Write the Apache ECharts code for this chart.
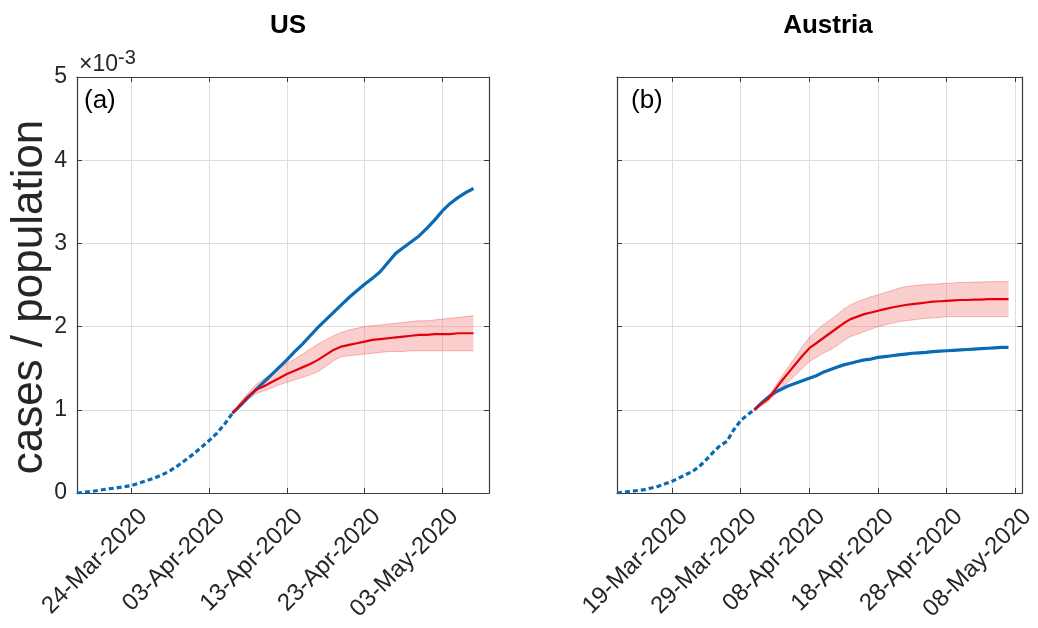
<!DOCTYPE html>
<html>
<head>
<meta charset="utf-8">
<script src="https://cdn.jsdelivr.net/npm/echarts@6/dist/echarts.min.js"></script>
<style>
  html, body { margin: 0; padding: 0; background: #fff; }
  #chart { width: 1038px; height: 628px; }
</style>
</head>
<body>
<div id="chart"></div>
<script>
// ---- DATA (values in units of 1e-3 cases / population) ----
const usStart = '2020-03-17', usDays = 54;       // 17-Mar .. 09-May
const atStart = '2020-03-11', atDays = 60;       // 11-Mar .. 09-May
const usTicks = ['24-Mar-2020', '03-Apr-2020', '13-Apr-2020', '23-Apr-2020', '03-May-2020'];
const atTicks = ['19-Mar-2020', '29-Mar-2020', '08-Apr-2020', '18-Apr-2020', '28-Apr-2020', '08-May-2020'];
const yTicks = [0, 1, 2, 3, 4, 5];

// US observed cases (day 0 = 17-Mar); first 21 points drawn dotted (fit window)
const usObserved = [0.00, 0.01, 0.02, 0.035, 0.05, 0.06, 0.075, 0.09, 0.12, 0.15,
  0.18, 0.22, 0.27, 0.33, 0.40, 0.47, 0.55, 0.63, 0.72, 0.83,
  0.96, 1.05, 1.15, 1.24, 1.33, 1.42, 1.51, 1.60, 1.70, 1.79,
  1.89, 1.99, 2.08, 2.17, 2.26, 2.35, 2.43, 2.51, 2.58, 2.66,
  2.77, 2.88, 2.95, 3.02, 3.09, 3.18, 3.28, 3.39, 3.48, 3.55,
  3.61, 3.66];
const usFitEnd = 20;
// US model prediction (starts at day 20)
const usModel = [0.96, 1.06, 1.16, 1.24, 1.28, 1.33, 1.38, 1.43, 1.47, 1.51,
  1.55, 1.60, 1.66, 1.72, 1.76, 1.78, 1.80, 1.82, 1.84, 1.85,
  1.86, 1.87, 1.88, 1.89, 1.90, 1.90, 1.91, 1.91, 1.91, 1.92,
  1.92, 1.92];
const usUpper = [0.96, 1.09, 1.20, 1.30, 1.37, 1.43, 1.50, 1.56, 1.61, 1.67,
  1.73, 1.79, 1.84, 1.89, 1.93, 1.96, 1.98, 2.00, 2.01, 2.02,
  2.03, 2.04, 2.05, 2.06, 2.07, 2.07, 2.08, 2.09, 2.10, 2.11,
  2.12, 2.13];
const usLower = [0.96, 1.04, 1.12, 1.19, 1.23, 1.26, 1.30, 1.33, 1.36, 1.39,
  1.42, 1.46, 1.52, 1.59, 1.64, 1.65, 1.66, 1.67, 1.68, 1.69,
  1.70, 1.70, 1.70, 1.71, 1.71, 1.71, 1.71, 1.71, 1.71, 1.71,
  1.71, 1.71];

// Austria observed cases (day 0 = 11-Mar)
const atObserved = [0.00, 0.01, 0.02, 0.03, 0.04, 0.06, 0.08, 0.11, 0.14, 0.18,
  0.22, 0.26, 0.32, 0.40, 0.49, 0.57, 0.62, 0.76, 0.87, 0.94,
  1.00, 1.08, 1.15, 1.21, 1.25, 1.29, 1.32, 1.35, 1.38, 1.41,
  1.45, 1.48, 1.51, 1.54, 1.56, 1.58, 1.60, 1.61, 1.63, 1.64,
  1.65, 1.66, 1.67, 1.68, 1.685, 1.69, 1.70, 1.705, 1.71, 1.715,
  1.72, 1.725, 1.73, 1.735, 1.74, 1.745, 1.75, 1.75];
const atFitEnd = 20;
const atModel = [1.00, 1.07, 1.13, 1.24, 1.35, 1.45, 1.55, 1.65, 1.74, 1.80,
  1.86, 1.92, 1.98, 2.04, 2.09, 2.12, 2.15, 2.17, 2.19, 2.21,
  2.23, 2.245, 2.26, 2.27, 2.28, 2.29, 2.30, 2.305, 2.31, 2.315,
  2.32, 2.32, 2.325, 2.325, 2.33, 2.33, 2.33, 2.33];
const atUpper = [1.00, 1.09, 1.16, 1.28, 1.40, 1.52, 1.64, 1.76, 1.87, 1.95,
  2.02, 2.08, 2.14, 2.21, 2.26, 2.30, 2.33, 2.36, 2.38, 2.41,
  2.43, 2.46, 2.48, 2.49, 2.50, 2.505, 2.51, 2.515, 2.52, 2.525,
  2.53, 2.53, 2.535, 2.535, 2.54, 2.54, 2.54, 2.54];
const atLower = [1.00, 1.05, 1.10, 1.18, 1.26, 1.34, 1.42, 1.50, 1.58, 1.63,
  1.68, 1.72, 1.77, 1.83, 1.88, 1.91, 1.94, 1.97, 2.00, 2.02,
  2.04, 2.06, 2.07, 2.08, 2.09, 2.10, 2.105, 2.11, 2.12, 2.12,
  2.12, 2.12, 2.12, 2.12, 2.12, 2.12, 2.12, 2.12];

// ---- helpers ----
const MON = ['Jan','Feb','Mar','Apr','May','Jun','Jul','Aug','Sep','Oct','Nov','Dec'];
function dateCats(start, n) {
  const d0 = new Date(start + 'T00:00:00Z');
  const out = [];
  for (let i = 0; i < n; i++) {
    const d = new Date(d0.getTime() + i * 86400000);
    out.push(String(d.getUTCDate()).padStart(2, '0') + '-' + MON[d.getUTCMonth()] + '-' + d.getUTCFullYear());
  }
  return out;
}
const usCats = dateCats(usStart, usDays);
const atCats = dateCats(atStart, atDays);

function pad(arr, offset, n) {
  const out = new Array(n).fill('-');
  arr.forEach((v, i) => { out[offset + i] = v; });
  return out;
}
function slice(arr, a, b, n) {
  const out = new Array(n).fill('-');
  for (let i = a; i <= b && i < arr.length; i++) out[i] = arr[i];
  return out;
}

const FONT = 'Liberation Sans, Arial, Helvetica, sans-serif';
const AX = '#3a3a3a';
const BLUE = '#0a6bb4';
const RED = '#e6000a';

function xAxes(grid, cats, ticks) {
  const isTick = (i, v) => ticks.indexOf(v) >= 0;
  return [
    {
      gridIndex: grid, type: 'category', data: cats, boundaryGap: false, position: 'bottom',
      axisLine: { show: true, onZero: false, lineStyle: { color: AX, width: 1.2 } },
      axisTick: { show: true, inside: true, length: 5, interval: isTick, lineStyle: { color: AX } },
      axisLabel: { show: true, interval: isTick, rotate: 45, margin: 32, padding: [0, -17, 0, 0],
        fontSize: 24, fontFamily: FONT, color: '#262626' },
      splitLine: { show: true, interval: isTick, lineStyle: { color: '#dedede', width: 1 } }
    },
    {
      gridIndex: grid, type: 'category', data: cats, boundaryGap: false, position: 'top',
      axisLine: { show: true, onZero: false, lineStyle: { color: AX, width: 1.2 } },
      axisTick: { show: true, inside: true, length: 5, interval: isTick, lineStyle: { color: AX } },
      axisLabel: { show: false }, splitLine: { show: false }
    }
  ];
}
function yAxes(grid, showLabels) {
  return [
    {
      gridIndex: grid, type: 'value', min: 0, max: 5, interval: 1, position: 'left',
      axisLine: { show: true, lineStyle: { color: AX, width: 1.2 } },
      axisTick: { show: true, inside: true, length: 5, lineStyle: { color: AX } },
      axisLabel: { show: showLabels, fontSize: 23, fontFamily: FONT, color: '#262626', margin: 10,
        formatter: v => (yTicks.indexOf(v) >= 0 ? String(v) : '') },
      splitLine: { show: true, lineStyle: { color: '#dedede', width: 1 } }
    },
    {
      gridIndex: grid, type: 'value', min: 0, max: 5, interval: 1, position: 'right',
      axisLine: { show: true, lineStyle: { color: AX, width: 1.2 } },
      axisTick: { show: true, inside: true, length: 5, lineStyle: { color: AX } },
      axisLabel: { show: false }, splitLine: { show: false }
    }
  ];
}

function panelSeries(xi, yi, n, observed, fitEnd, model, upper, lower) {
  const off = fitEnd;
  const width = upper.map((u, i) => +(u - lower[i]).toFixed(4));
  const common = { xAxisIndex: xi, yAxisIndex: yi, symbol: 'none', silent: true, animation: false };
  return [
    Object.assign({}, common, { type: 'line', stack: 'band' + xi, data: pad(lower, off, n),
      lineStyle: { width: 0, opacity: 0 } }),
    Object.assign({}, common, { type: 'line', stack: 'band' + xi, data: pad(width, off, n),
      lineStyle: { width: 0, opacity: 0 }, areaStyle: { color: 'rgba(245,120,120,0.36)', opacity: 1 } }),
    Object.assign({}, common, { type: 'line', data: pad(upper, off, n),
      lineStyle: { width: 1, color: 'rgba(230,60,60,0.35)' } }),
    Object.assign({}, common, { type: 'line', data: pad(lower, off, n),
      lineStyle: { width: 1, color: 'rgba(230,60,60,0.35)' } }),
    Object.assign({}, common, { type: 'line', data: slice(observed, 0, fitEnd, n),
      lineStyle: { width: 3.2, color: BLUE, type: [5, 3], cap: 'butt' } }),
    Object.assign({}, common, { type: 'line', data: slice(observed, fitEnd, observed.length - 1, n),
      lineStyle: { width: 3.2, color: BLUE } }),
    Object.assign({}, common, { type: 'line', data: pad(model, off, n),
      lineStyle: { width: 2.2, color: RED } })
  ];
}

const chart = echarts.init(document.getElementById('chart'), null, { renderer: 'canvas' });
const option = {
  backgroundColor: '#ffffff',
  animation: false,
  title: [
    { text: 'US', left: 283, top: 8, textAlign: 'center',
      textStyle: { fontFamily: FONT, fontWeight: 'bold', fontSize: 26, color: '#000' } },
    { text: 'Austria', left: 823, top: 8, textAlign: 'center',
      textStyle: { fontFamily: FONT, fontWeight: 'bold', fontSize: 26, color: '#000' } }
  ],
  grid: [
    { left: 77, top: 77, width: 412, height: 416, containLabel: false },
    { left: 617, top: 77, width: 412, height: 416, containLabel: false }
  ],
  xAxis: [].concat(xAxes(0, usCats, usTicks), xAxes(1, atCats, atTicks)),
  yAxis: [].concat(yAxes(0, true), yAxes(1, false)),
  series: [].concat(
    panelSeries(0, 0, usDays, usObserved, usFitEnd, usModel, usUpper, usLower),
    panelSeries(2, 2, atDays, atObserved, atFitEnd, atModel, atUpper, atLower)
  ),
  graphic: [
    { type: 'text', x: 30, y: 297, rotation: Math.PI / 2,
      style: { text: 'cases / population', font: '44px ' + FONT, fill: '#262626',
        textAlign: 'center', textVerticalAlign: 'middle' } },
    { type: 'text', x: 79, y: 65,
      style: { text: '{a|×10}{b|-3}', fill: '#262626', textVerticalAlign: 'middle',
        rich: { a: { fontSize: 23, fontFamily: FONT, fill: '#262626' },
                b: { fontSize: 20, fontFamily: FONT, fill: '#262626', verticalAlign: 'bottom', padding: [0, 0, 14, 0] } } } },
    { type: 'text', x: 84, y: 101,
      style: { text: '(a)', font: '26px ' + FONT, fill: '#000', textVerticalAlign: 'middle' } },
    { type: 'text', x: 631, y: 101,
      style: { text: '(b)', font: '26px ' + FONT, fill: '#000', textVerticalAlign: 'middle' } }
  ]
};
chart.setOption(option);
</script>
</body>
</html>
